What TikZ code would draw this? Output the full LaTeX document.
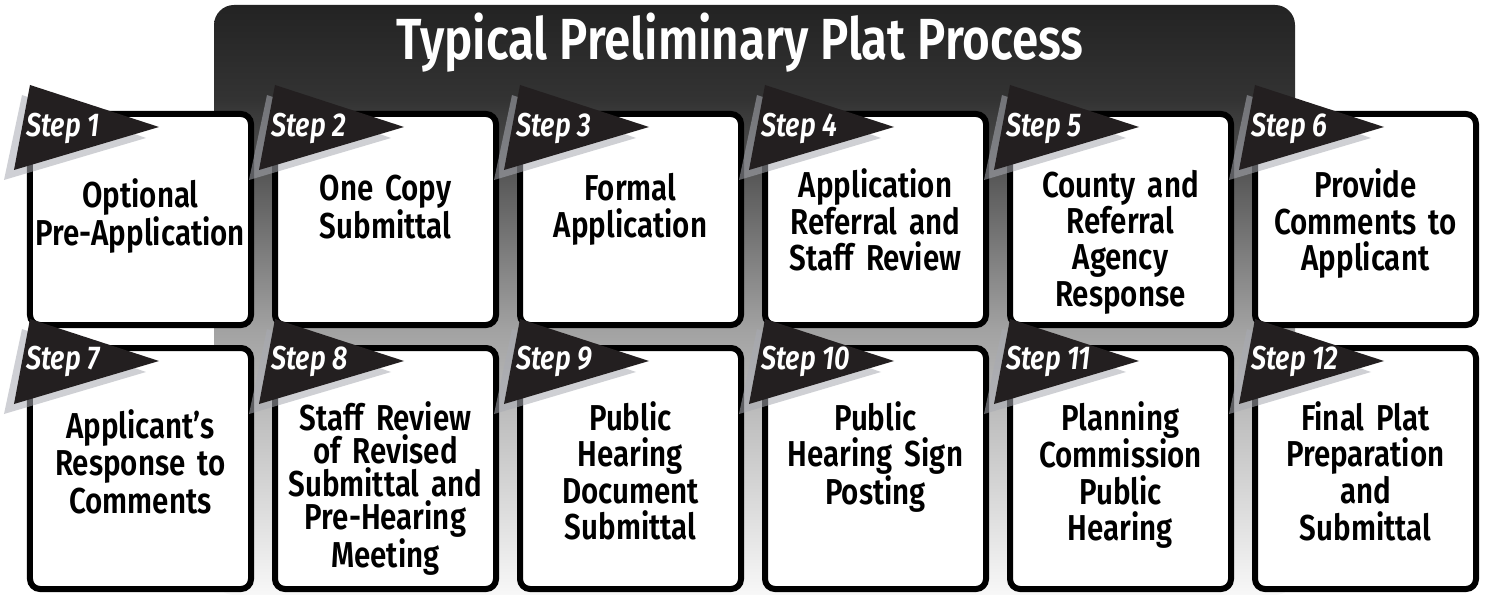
\documentclass[tikz,border=0pt]{standalone}
\usepackage{fontspec}
\setmainfont{Fira Sans}[FakeStretch=0.82,
  BoldFont={Fira Sans SemiBold}, BoldItalicFont={Fira Sans SemiBold Italic}]
\usetikzlibrary{calc}

\definecolor{flagdark}{HTML}{231F20}
\definecolor{flagshade}{HTML}{A8AAB2}
\definecolor{bgA}{HTML}{F8F8F8}
\definecolor{bgB}{HTML}{A2A2A2}
\definecolor{bgC}{HTML}{333333}
\definecolor{bgD}{HTML}{232323}
% backdrop gradient: the 25bp..75bp band is stretched over the filled path
\pgfdeclareverticalshading{backdrop}{100bp}{%
  color(0bp)=(bgA); color(25bp)=(bgA); color(47.5bp)=(bgB);
  color(67bp)=(bgC); color(75bp)=(bgD); color(100bp)=(bgD)}

\tikzset{
  stepbox/.style={draw=black, fill=white, line width=6bp, rounded corners=10bp,
    outer sep=0pt, inner sep=0pt, minimum width=221bp},
  toprow/.style={stepbox, minimum height=211bp},
  lowrow/.style={stepbox, minimum height=241bp},
  boxtext/.style={text width=218bp, align=center, inner sep=0pt, text=black},
  steptext/.style={inner sep=0pt, text=white,
    font=\fontsize{33bp}{33bp}\selectfont\bfseries\itshape},
  titletext/.style={inner sep=0pt, text=white,
    font=\fontsize{58bp}{58bp}\selectfont\bfseries},
  flagbody/.style={fill=flagdark},
  flagshadow/.style={fill=flagshade, fill opacity=0.55},
}

\begin{document}
\begin{tikzpicture}[x=1bp, y=-1bp]
\useasboundingbox (0,0) rectangle (1488,595);

% dark header panel fading to white
\path[shading=backdrop, rounded corners=20bp] (214,5) rectangle (1295,595);
\node[titletext, anchor=base] (title) at (740,60) {Typical Preliminary Plat Process};

% the twelve step boxes
\foreach \n/\col in {1/0,2/1,3/2,4/3,5/4,6/5}
  \node[toprow] (b\n) at (140.5+245*\col, 219.5) {};
\foreach \n/\col in {7/0,8/1,9/2,10/3,11/4,12/5}
  \node[lowrow] (b\n) at (140.5+245*\col, 468.5) {};

% box captions (first baseline measured from the box top)
\foreach \n/\dy/\ls/\txt in {
  1/94/38/{Optional\\Pre-Application},
  2/87/36.5/{One Copy\\Submittal},
  3/87/36.5/{Formal\\Application},
  4/84/36.5/{Application\\Referral and\\Staff Review},
  5/84/36/{County and\\Referral\\Agency\\Response},
  6/84/36.5/{Provide\\Comments to\\Applicant},
  7/90/37.5/{Applicant’s\\Response to\\Comments},
  8/82/33.2/{Staff Review\\of Revised\\Submittal and\\Pre-Hearing\\Meeting},
  9/82/36.5/{Public\\Hearing\\Document\\Submittal},
  10/82/36.5/{Public\\Hearing Sign\\Posting},
  11/82/36.5/{Planning\\Commission\\Public\\Hearing},
  12/82/36.7/{Final Plat\\Preparation\\and\\Submittal}}
  \node[boxtext, anchor=base, font=\fontsize{36bp}{\ls bp}\selectfont\bfseries]
    (t\n) at ($(b\n.north)+(0,\dy)$) {\txt};

% step flags on top of the boxes
\foreach \n/\sy in {1/23,2/23,3/23,4/23,5/23,6/23,7/21,8/21,9/21,10/21,11/21,12/21}{
  \fill[flagshadow] ($(b\n.north west)+(-8,-19)$) -- ($(b\n.north west)+(116,24)$)
    -- ($(b\n.north west)+(-26,66)$) -- cycle;
  \fill[flagbody] ($(b\n.north west)+(0,-29)$) -- ($(b\n.north west)+(129,13)$)
    -- ($(b\n.north west)+(-16,56)$) -- cycle;
  \node[steptext, anchor=base west] (s\n) at ($(b\n.north west)+(-4,\sy)$) {Step \n};
}
\end{tikzpicture}
\end{document}
